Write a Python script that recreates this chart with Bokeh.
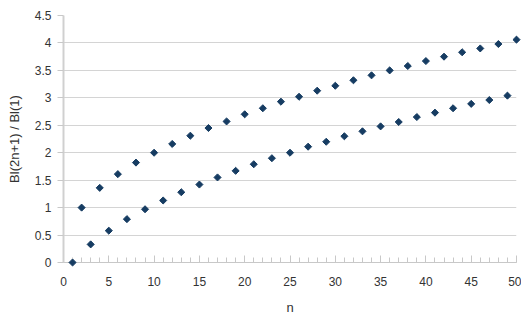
import math
from bokeh.plotting import figure
from bokeh.models import SingleIntervalTicker, FixedTicker, Range1d
from bokeh.embed import file_html
from bokeh.resources import INLINE

n_odd = [1, 3, 5, 7, 9, 11, 13, 15, 17, 19, 21, 23, 25, 27, 29, 31, 33, 35, 37, 39, 41, 43, 45, 47, 49]
v_odd = [0.0, 0.33, 0.58, 0.79, 0.97, 1.13, 1.28, 1.42, 1.55, 1.67, 1.79, 1.90, 2.00, 2.11, 2.20,
         2.30, 2.39, 2.48, 2.56, 2.65, 2.73, 2.81, 2.89, 2.96, 3.04]
n_even = [2, 4, 6, 8, 10, 12, 14, 16, 18, 20, 22, 24, 26, 28, 30, 32, 34, 36, 38, 40, 42, 44, 46, 48, 50]
v_even = [1.0, 1.36, 1.61, 1.82, 2.0, 2.16, 2.31, 2.45, 2.57, 2.70, 2.81, 2.93, 3.02, 3.13, 3.22,
          3.32, 3.41, 3.50, 3.58, 3.67, 3.75, 3.83, 3.90, 3.98, 4.06]
y_ticks = [0, 0.5, 1, 1.5, 2, 2.5, 3, 3.5, 4, 4.5]
y_labels = ["0", "0.5", "1", "1.5", "2", "2.5", "3", "3.5", "4", "4.5"]

p = figure(width=521, height=317, output_backend="svg", toolbar_location=None,
           x_range=Range1d(0, 50), y_range=Range1d(0, 4.5))
p.min_border_left = 63
p.min_border_right = 5
p.min_border_top = 15
p.min_border_bottom = 48
p.outline_line_color = None
p.background_fill_color = "white"

color = "#163c62"
p.scatter(n_odd + n_even, v_odd + v_even, marker="square", size=5, angle=math.pi / 4,
          color=color, level="overlay")

font = "Liberation Sans"
text_color = "#333333"

xa = p.xaxis[0]
xa.ticker = SingleIntervalTicker(interval=5, num_minor_ticks=5)
xa.axis_line_color = "#c8c8c8"
xa.major_tick_line_color = "#c8c8c8"
xa.minor_tick_line_color = "#c8c8c8"
xa.major_tick_in = 7
xa.major_tick_out = 0
xa.minor_tick_in = 5
xa.minor_tick_out = 0
xa.major_label_text_font = font
xa.major_label_text_font_size = "12px"
xa.major_label_text_color = text_color
xa.major_label_standoff = 14
xa.axis_label = "n"
xa.axis_label_text_font = font
xa.axis_label_text_font_style = "normal"
xa.axis_label_text_font_size = "13px"
xa.axis_label_text_color = text_color
xa.axis_label_standoff = 11

ya = p.yaxis[0]
ya.ticker = FixedTicker(ticks=y_ticks)
ya.major_label_overrides = {t: l for t, l in zip(y_ticks, y_labels)}
ya.axis_line_color = "#d0d0d0"
ya.axis_line_width = 2
ya.major_tick_line_color = "#c8c8c8"
ya.major_tick_in = 0
ya.major_tick_out = 6
ya.minor_tick_line_color = None
ya.major_label_text_font = font
ya.major_label_text_font_size = "12px"
ya.major_label_text_color = text_color
ya.major_label_standoff = 6
ya.axis_label = "Bl(2n+1) / Bl(1)"
ya.axis_label_text_font = font
ya.axis_label_text_font_style = "normal"
ya.axis_label_text_font_size = "13px"
ya.axis_label_text_color = text_color
ya.axis_label_standoff = 10

p.xgrid.grid_line_color = None
p.ygrid.grid_line_color = "#d4d4d4"
p.ygrid.ticker = FixedTicker(ticks=y_ticks)

open("out.html", "w").write(file_html(p, INLINE))
